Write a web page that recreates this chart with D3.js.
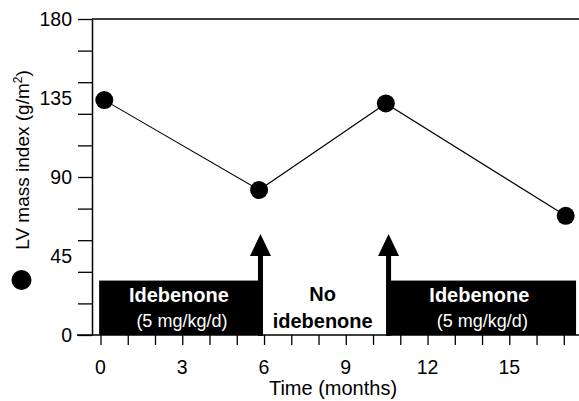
<!DOCTYPE html>
<html><head><meta charset="utf-8">
<script src="https://cdn.jsdelivr.net/npm/d3@7"></script>
<style>body{margin:0;background:#fff}svg{display:block}text{font-family:"Liberation Sans",Arial,sans-serif}</style>
</head><body>
<svg id="c" width="579" height="401"></svg>
<script>
const months = [0.14, 5.82, 10.47, 17.07];
const lvmi = [133.8, 82.6, 131.9, 67.9];
const yTickValues = [0,18,36,54,72,90,108,126,144,162,180];
const yLabelValues = [0,45,90,135,180];
const xTickValues = d3.range(0,18,1);
const xLabelValues = [0,3,6,9,12,15];
const periods = [
  {start:-0.05, end:5.95, label:"Idebenone", dose:"(5 mg/kg/d)", on:true},
  {start:10.5, end:17.45, label:"Idebenone", dose:"(5 mg/kg/d)", on:true}
];
const offLabel = ["No","idebenone"];
const arrowMonths = [5.87, 10.57];
const barLevel = 31;
const arrowTip = 57.5, arrowBase = 45;

const svg = d3.select("#c");
const x = d3.scaleLinear().domain([0,17]).range([100.5,563.8]);
const y = d3.scaleLinear().domain([0,180]).range([335,19]);

svg.selectAll("rect.p").data(periods).join("rect")
  .attr("x", d=>x(d.start)).attr("width", d=>x(d.end)-x(d.start))
  .attr("y", y(barLevel)).attr("height", y(0)-y(barLevel)).attr("fill","#000");
svg.selectAll("text.pl").data(periods).join("text")
  .attr("x", d=>(x(d.start)+x(d.end))/2 - 2).attr("y", 302)
  .attr("text-anchor","middle").attr("fill","#fff").attr("font-weight","bold").attr("font-size",20)
  .text(d=>d.label);
svg.selectAll("text.pd").data(periods).join("text")
  .attr("x", d=>(x(d.start)+x(d.end))/2 + 1).attr("y", 327)
  .attr("text-anchor","middle").attr("fill","#fff").attr("font-size",18)
  .text(d=>d.dose);
const midOff = (x(periods[0].end)+x(periods[1].start))/2;
svg.append("text").attr("x", midOff-2).attr("y",301).attr("text-anchor","middle")
  .attr("font-weight","bold").attr("font-size",20).text(offLabel[0]);
svg.append("text").attr("x", midOff-2).attr("y",328).attr("text-anchor","middle")
  .attr("font-weight","bold").attr("font-size",20).text(offLabel[1]);

arrowMonths.forEach(m=>{
  const cx = x(m);
  svg.append("rect").attr("x",cx-2.5).attr("width",5).attr("y",y(arrowBase)-1).attr("height",y(0)-y(arrowBase)+2).attr("fill","#000");
  svg.append("path").attr("d",`M${cx-10.5},${y(arrowBase)} L${cx},${y(arrowTip)} L${cx+10.5},${y(arrowBase)} Z`).attr("fill","#000");
});

const ya = svg.append("g").attr("transform","translate(92,0)")
  .call(d3.axisLeft(y).tickValues(yTickValues).tickSize(14).tickFormat("").tickSizeOuter(0));
ya.select(".domain").attr("stroke-width",1.5);
ya.selectAll(".tick line").attr("stroke-width",1.3);
svg.selectAll("text.yl").data(yLabelValues).join("text")
  .attr("x",72).attr("y",d=>y(d)).attr("dy","0.36em").attr("text-anchor","end").attr("font-size",19.5).text(d=>d);

const xa = svg.append("g").attr("transform","translate(0,335)")
  .call(d3.axisBottom(x).tickValues(xTickValues).tickSize(10).tickFormat("").tickSizeOuter(0));
xa.select(".domain").remove();
xa.selectAll(".tick line").attr("stroke-width",1.3);
svg.append("line").attr("x1",77).attr("x2",579).attr("y1",335).attr("y2",335).attr("stroke","#000").attr("stroke-width",1.5);
svg.append("line").attr("x1",92).attr("x2",579).attr("y1",19).attr("y2",19).attr("stroke","#000").attr("stroke-width",1.5);
svg.selectAll("text.xl").data(xLabelValues).join("text")
  .attr("x",d=>x(d)).attr("y",374).attr("text-anchor","middle").attr("font-size",19.5).text(d=>d);

svg.append("text").attr("x",333).attr("y",395).attr("text-anchor","middle").attr("font-size",20).text("Time (months)");
const yt = svg.append("text").attr("transform","translate(29,160) rotate(-90)").attr("text-anchor","middle").attr("font-size",19);
yt.append("tspan").text("LV mass index (g/m");
yt.append("tspan").attr("dy",-7).attr("font-size",12).text("2");
yt.append("tspan").attr("dy",7).text(")");
svg.append("circle").attr("cx",21.5).attr("cy",280).attr("r",10).attr("fill","#000");

const pts = months.map((m,i)=>[m,lvmi[i]]);
svg.append("path").datum(pts).attr("fill","none").attr("stroke","#000").attr("stroke-width",1.1)
  .attr("d", d3.line().x(d=>x(d[0])).y(d=>y(d[1])));
svg.selectAll("circle.pt").data(pts).join("circle")
  .attr("cx",d=>x(d[0])).attr("cy",d=>y(d[1])).attr("r",9).attr("fill","#000");
</script>
</body></html>
